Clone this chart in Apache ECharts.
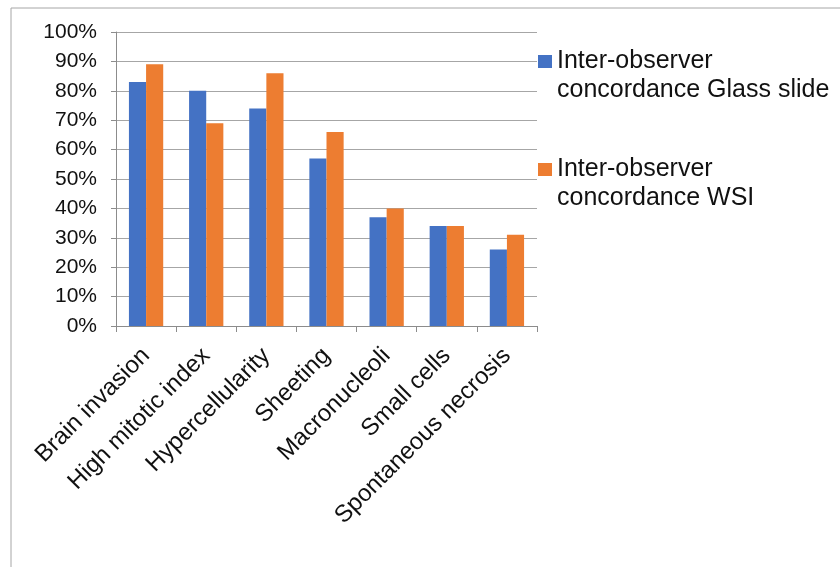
<!DOCTYPE html>
<html>
<head>
<meta charset="utf-8">
<script src="https://cdn.jsdelivr.net/npm/echarts@6/dist/echarts.min.js"></script>
<style>
  html, body { margin: 0; padding: 0; background: #fff; }
  #chart { width: 840px; height: 567px; }
</style>
</head>
<body>
<div id="chart"></div>
<script>
// Histological criteria assessed
const categories = [
  'Brain invasion', 'High mitotic index', 'Hypercellularity', 'Sheeting',
  'Macronucleoli', 'Small cells', 'Spontaneous necrosis'
];
// Inter-observer concordance (%) per criterion
const glassSlide = [83, 80, 74, 57, 37, 34, 26];
const wsi = [89, 69, 86, 66, 40, 34, 31];
const seriesNames = [
  'Inter-observer\nconcordance Glass slide',
  'Inter-observer\nconcordance WSI'
];
const yTicks = { min: 0, max: 100, step: 10 };

const FONT = '"Liberation Sans", Arial, sans-serif';
const TEXT = '#111';

const chart = echarts.init(document.getElementById('chart'), null, { renderer: 'canvas' });
chart.setOption({
  animation: false,
  backgroundColor: '#fff',
  textStyle: { fontFamily: FONT },
  graphic: [{
    type: 'rect',
    shape: { x: 11, y: 8, width: 1000, height: 800 },
    style: { fill: 'none', stroke: '#a6a6a6', lineWidth: 1 },
    silent: true
  }],
  grid: { left: 116, right: 303, top: 32, bottom: 241, containLabel: false },
  legend: {
    orient: 'vertical',
    left: 538,
    top: 18,
    padding: 0,
    itemWidth: 14,
    itemHeight: 13,
    itemGap: 21,
    icon: 'rect',
    // a leading blank line keeps the swatch level with the first text line
    formatter: name => ' \n' + name,
    textStyle: {
      fontFamily: FONT, fontSize: 25, color: TEXT, lineHeight: 29
    },
    data: seriesNames
  },
  xAxis: {
    type: 'category',
    data: categories,
    axisLine: { lineStyle: { color: '#8c8c8c', width: 1 } },
    axisTick: { show: true, length: 6, lineStyle: { color: '#8c8c8c' } },
    axisLabel: {
      rotate: 45, interval: 0, margin: 26,
      fontFamily: FONT, fontSize: 24, color: TEXT
    }
  },
  yAxis: {
    type: 'value',
    min: yTicks.min, max: yTicks.max, interval: yTicks.step,
    axisLine: { show: true, lineStyle: { color: '#8c8c8c', width: 1 } },
    axisTick: { show: true, length: 5, lineStyle: { color: '#8c8c8c' } },
    splitLine: { show: true, lineStyle: { color: '#a6a6a6', width: 1 } },
    axisLabel: {
      formatter: '{value}%', margin: 19,
      fontFamily: FONT, fontSize: 21, color: TEXT
    }
  },
  series: [
    {
      name: seriesNames[0], type: 'bar', data: glassSlide,
      itemStyle: { color: '#4472C4' },
      barGap: '0%', barCategoryGap: '43%'
    },
    {
      name: seriesNames[1], type: 'bar', data: wsi,
      itemStyle: { color: '#ED7D31' },
      barGap: '0%', barCategoryGap: '43%'
    }
  ]
});
</script>
</body>
</html>
